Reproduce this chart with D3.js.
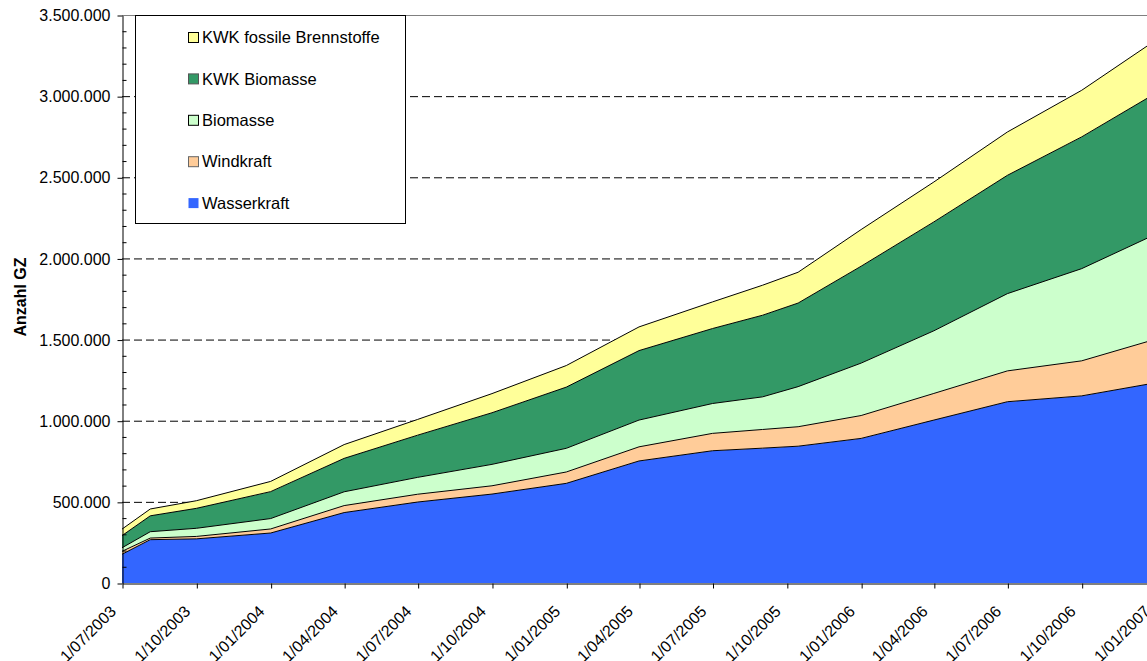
<!DOCTYPE html>
<html>
<head>
<meta charset="utf-8">
<script src="https://cdn.jsdelivr.net/npm/d3@7"></script>
<style>
  body { margin: 0; background: #fff; }
  svg { display: block; }
  text { font-family: "Liberation Sans", Arial, sans-serif; fill: #000; }
</style>
</head>
<body>
<svg id="chart" width="1147" height="661"></svg>
<script>
// Anzahl GZ, cumulative, by technology (values in thousands)
const dates = [
  "2003-07-01", "2003-08-05", "2003-10-01", "2004-01-01", "2004-04-01",
  "2004-07-01", "2004-10-01", "2005-01-01", "2005-04-01", "2005-07-01",
  "2005-09-01", "2005-10-15", "2006-01-01", "2006-04-01", "2006-07-01",
  "2006-10-01", "2007-01-01"
];
const wasserkraft   = [177, 267, 272, 308, 434, 499, 548, 614, 752, 815, 831, 843, 891, 1004, 1117, 1153, 1234];
const windkraft     = [ 18,  10,  15,  25,  43,  48,  51,  70,  87, 107, 115, 120, 141,  164,  190,  216,  269];
const biomasse      = [ 22,  39,  50,  64,  85, 104, 132, 146, 165, 184, 201, 247, 323,  386,  476,  568,  647];
const kwkBiomasse   = [ 75,  98, 123, 166, 206, 260, 318, 377, 428, 462, 503, 515, 597,  671,  729,  812,  869];
const kwkFossile    = [ 40,  42,  47,  63,  85,  97, 118, 133, 146, 164, 185, 190, 226,  246,  267,  287,  327];

const seriesNames  = ["Wasserkraft", "Windkraft", "Biomasse", "KWK Biomasse", "KWK fossile Brennstoffe"];
const seriesValues = [wasserkraft, windkraft, biomasse, kwkBiomasse, kwkFossile];
const seriesColors = ["#3366FF", "#FFCC99", "#CCFFCC", "#339966", "#FFFF99"];
const swatchStroke = ["none", "#666", "#000", "#555", "#000"];

const yTickValues = [0, 500000, 1000000, 1500000, 2000000, 2500000, 3000000, 3500000];
const xTickLabels = [
  "2003-07-01", "2003-10-01", "2004-01-01", "2004-04-01", "2004-07-01",
  "2004-10-01", "2005-01-01", "2005-04-01", "2005-07-01", "2005-10-01",
  "2006-01-01", "2006-04-01", "2006-07-01", "2006-10-01", "2007-01-01"
];

const parse = d3.utcParse("%Y-%m-%d");
const rows = dates.map((d, i) => {
  const r = { date: parse(d) };
  seriesNames.forEach((k, j) => { r[k] = seriesValues[j][i] * 1000; });
  return r;
});

const plotLeft = 122, plotRight = 1156, plotTop = 15, plotBottom = 583;
const svg = d3.select("#chart");

const x = d3.scaleUtc()
  .domain([parse("2003-07-01"), parse("2007-01-01")])
  .range([plotLeft, plotRight]);
const y = d3.scaleLinear().domain([0, 3500000]).range([plotBottom, plotTop]);

const de = d3.formatLocale({ decimal: ",", thousands: ".", grouping: [3], currency: ["", " €"] });
const fmt = de.format(",d");

// dashed gridlines
svg.append("g")
  .selectAll("line")
  .data(yTickValues.filter(v => v > 0 && v < 3500000))
  .join("line")
  .attr("x1", plotLeft).attr("x2", plotRight)
  .attr("y1", d => y(d) + 0.5).attr("y2", d => y(d) + 0.5)
  .attr("stroke", "#000")
  .attr("stroke-width", 1)
  .attr("stroke-dasharray", "8,4");

// stacked areas
const stacked = d3.stack().keys(seriesNames)(rows);
const area = d3.area()
  .x(d => x(d.data.date))
  .y0(d => y(d[0]))
  .y1(d => y(d[1]));
const topLine = d3.line()
  .x(d => x(d.data.date))
  .y(d => y(d[1]));

svg.append("g")
  .selectAll("path")
  .data(stacked)
  .join("path")
  .attr("d", area)
  .attr("fill", (d, i) => seriesColors[i]);

svg.append("g")
  .selectAll("path")
  .data(stacked)
  .join("path")
  .attr("d", topLine)
  .attr("fill", "none")
  .attr("stroke", "#000")
  .attr("stroke-width", 1);

// plot area border (top / right)
svg.append("path")
  .attr("d", `M${plotLeft},${plotTop + 0.5}H${plotRight + 0.5}V${plotBottom}`)
  .attr("fill", "none")
  .attr("stroke", "#808080")
  .attr("stroke-width", 1);

// y axis
const yAxis = svg.append("g")
  .attr("transform", `translate(${plotLeft + 0.5},0.5)`)
  .call(d3.axisLeft(y).tickValues(yTickValues).tickSize(5).tickSizeOuter(0).tickPadding(7).tickFormat(fmt));
yAxis.select(".domain").attr("stroke", "#000");
yAxis.selectAll(".tick line").attr("stroke", "#000");
yAxis.selectAll("text").attr("font-size", "16px").attr("font-family", "Liberation Sans, Arial, sans-serif");

// minor ticks inside the plot
const minor = d3.range(100000, 3500000, 100000).filter(v => v % 500000 !== 0);
svg.append("g")
  .attr("transform", `translate(${plotLeft + 0.5},0.5)`)
  .selectAll("line")
  .data(minor)
  .join("line")
  .attr("x1", 0).attr("x2", 4)
  .attr("y1", d => y(d)).attr("y2", d => y(d))
  .attr("stroke", "#000");

// x axis
const xAxis = svg.append("g")
  .attr("transform", `translate(0.5,${plotBottom + 0.5})`)
  .call(d3.axisBottom(x).tickValues(xTickLabels.map(parse)).tickSize(5).tickSizeOuter(0)
    .tickFormat(d3.utcFormat("%-d/%m/%Y")));
xAxis.select(".domain").attr("stroke", "#000");
xAxis.selectAll(".tick line").attr("stroke", "#000");
xAxis.selectAll("text")
  .attr("font-size", "16px")
  .attr("font-family", "Liberation Sans, Arial, sans-serif")
  .attr("text-anchor", "end")
  .attr("x", 0).attr("y", 0).attr("dy", 0)
  .attr("transform", "translate(-6,29) rotate(-45)");

// y axis title
svg.append("text")
  .attr("transform", "translate(26,297) rotate(-90)")
  .attr("text-anchor", "middle")
  .attr("font-size", "16px")
  .attr("font-weight", "bold")
  .text("Anzahl GZ");

// legend
const legend = svg.append("g");
legend.append("rect")
  .attr("x", 135.5).attr("y", 15.5)
  .attr("width", 270).attr("height", 208)
  .attr("fill", "#fff").attr("stroke", "#000");
const order = [4, 3, 2, 1, 0];
order.forEach((si, row) => {
  const cy = 37.5 + row * 41.4;
  legend.append("rect")
    .attr("x", 188.5).attr("y", cy - 5)
    .attr("width", 10).attr("height", 10)
    .attr("fill", seriesColors[si])
    .attr("stroke", swatchStroke[si]);
  legend.append("text")
    .attr("x", 202).attr("y", cy).attr("dy", "0.35em")
    .attr("font-size", "16.5px")
    .text(seriesNames[si]);
});
</script>
</body>
</html>
